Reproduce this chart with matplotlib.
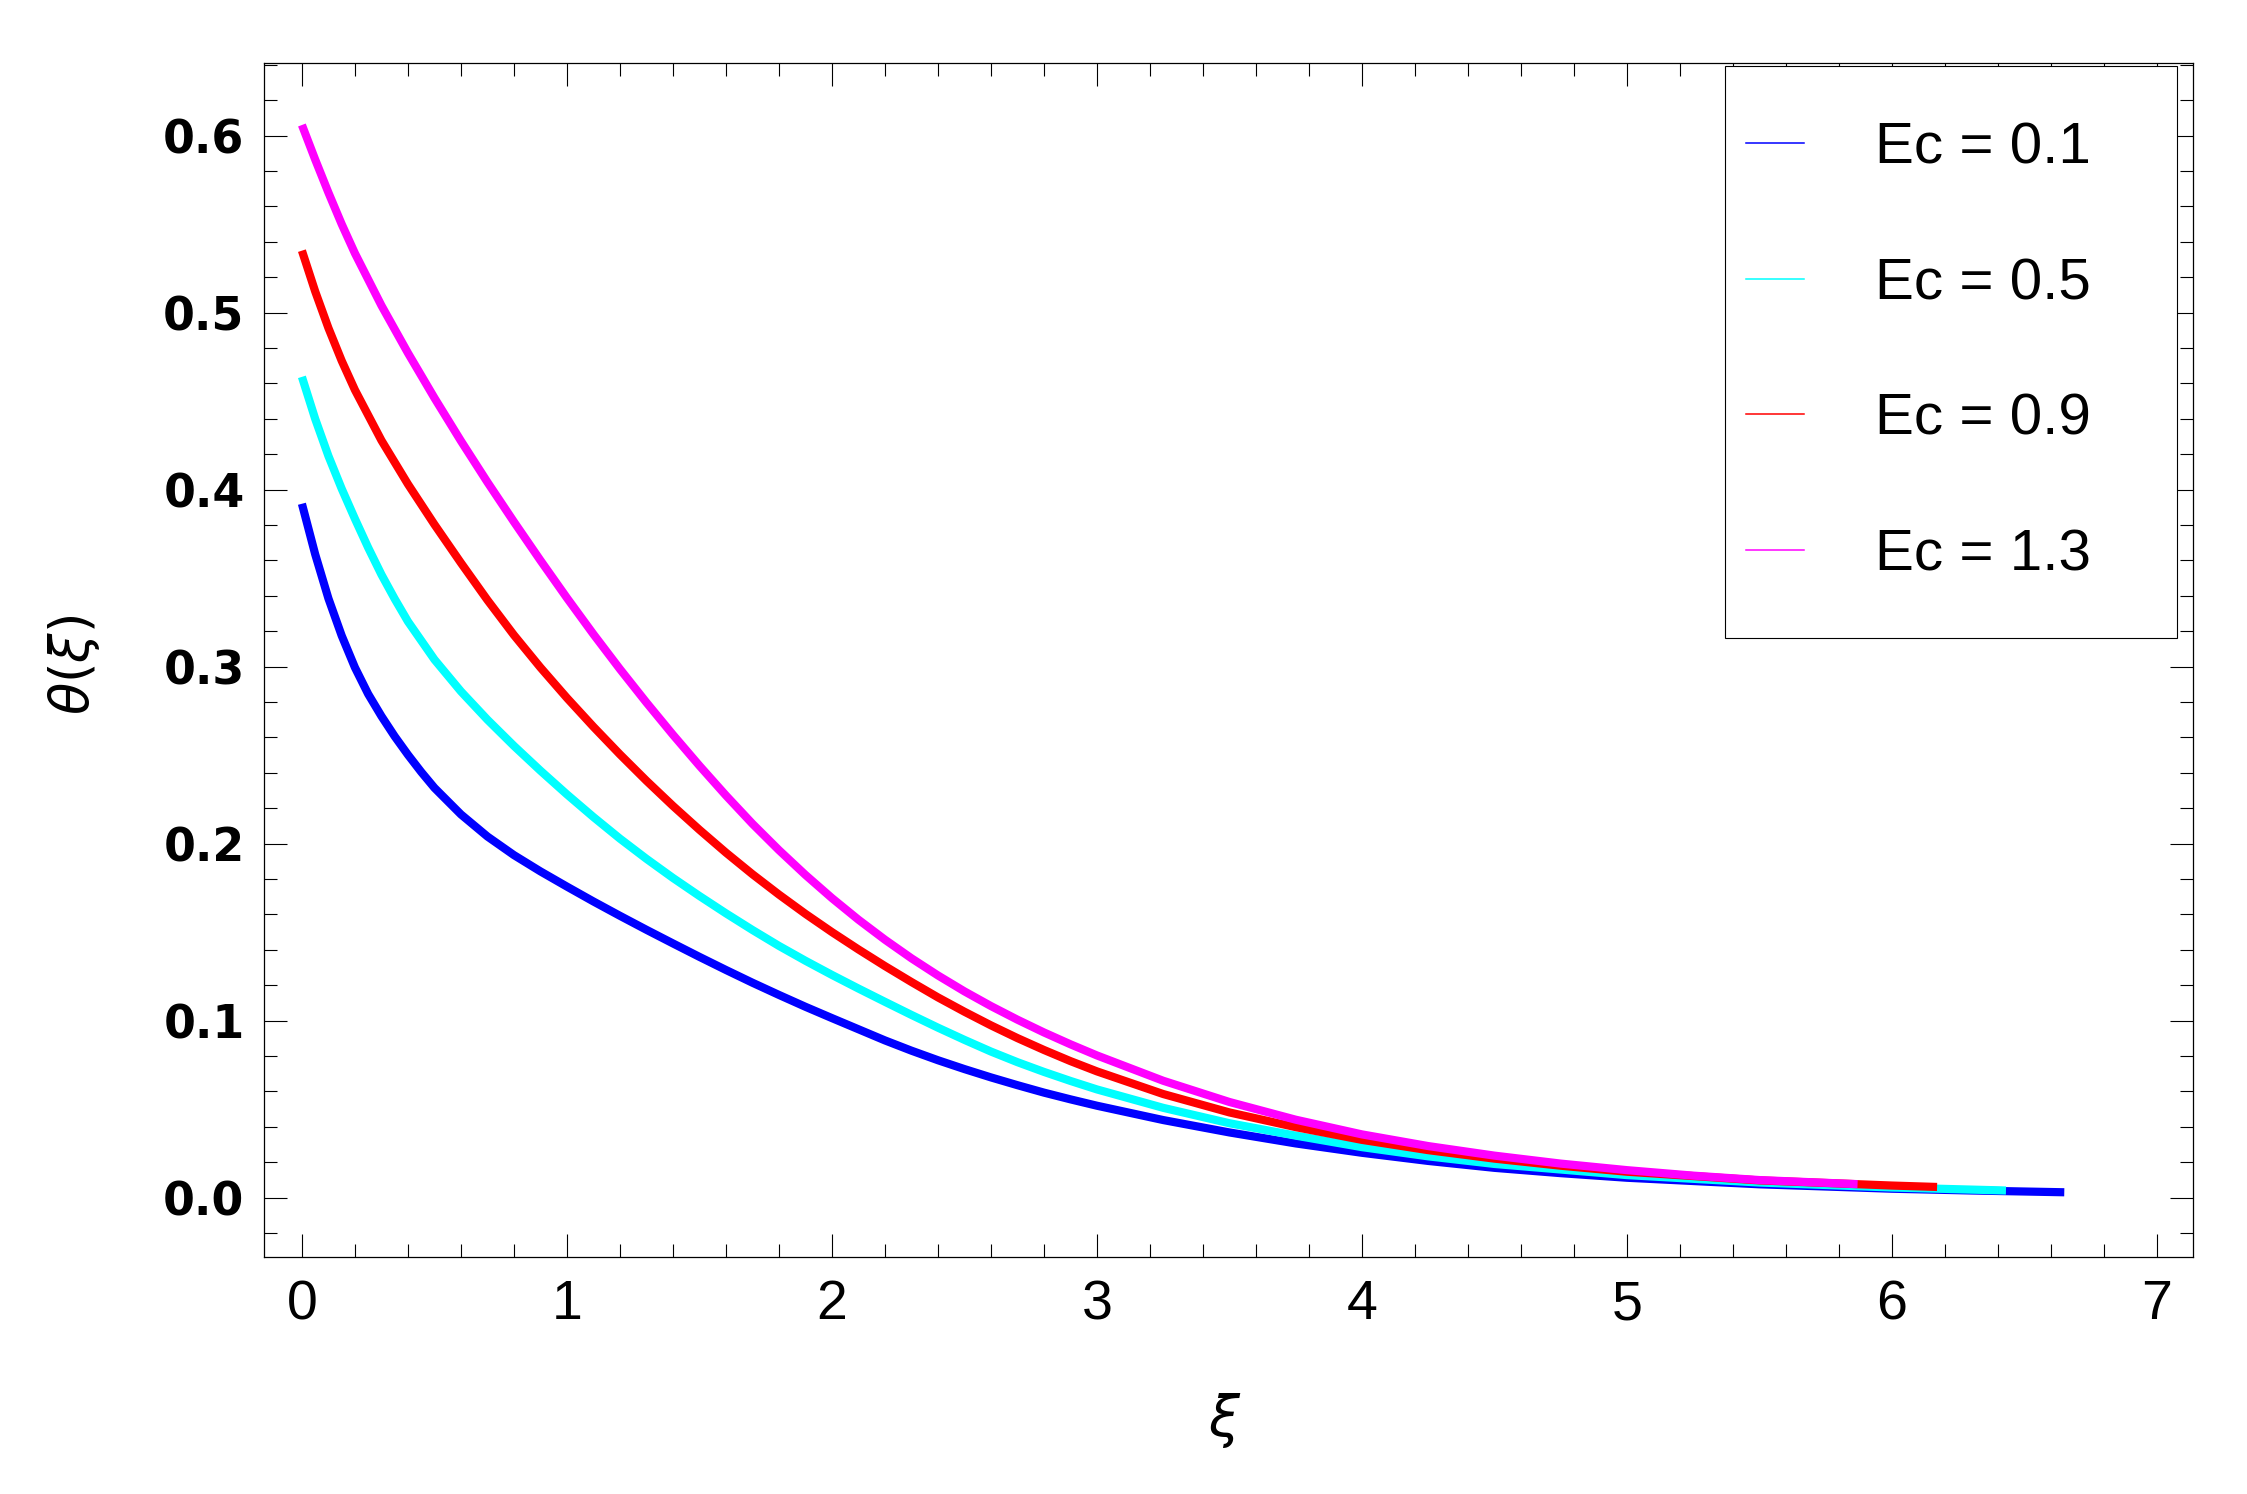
import matplotlib
matplotlib.use("Agg")
import matplotlib.pyplot as plt
from matplotlib.lines import Line2D
from matplotlib.legend_handler import HandlerLine2D
from matplotlib.ticker import MultipleLocator, FormatStrFormatter
from matplotlib import font_manager

# ---------------- data ----------------
labels = ["Ec = 0.1", "Ec = 0.5", "Ec = 0.9", "Ec = 1.3"]
colors = ["#0000ff", "#00ffff", "#ff0000", "#ff00ff"]

xi_ec01 = [0, 0.05, 0.1, 0.15, 0.2, 0.25, 0.3, 0.35, 0.4, 0.45, 0.5, 0.6, 0.7, 0.8,
           0.9, 1.0, 1.1, 1.2, 1.3, 1.4, 1.5, 1.6, 1.7, 1.8, 1.9, 2.0, 2.1, 2.2,
           2.3, 2.4, 2.5, 2.6, 2.7, 2.8, 2.9, 3.0, 3.25, 3.5, 3.75, 4.0, 4.25,
           4.5, 4.75, 5.0, 5.5, 6.0, 6.3, 6.65]
theta_ec01 = [0.3920, 0.3635, 0.3385, 0.3175, 0.2995, 0.2845, 0.2720, 0.2606, 0.2502,
              0.2405, 0.2315, 0.2165, 0.2040, 0.1935, 0.1843, 0.1757, 0.1673, 0.1592,
              0.1513, 0.1436, 0.1360, 0.1286, 0.1214, 0.1145, 0.1078, 0.1014, 0.0951,
              0.0888, 0.0830, 0.0776, 0.0726, 0.0679, 0.0635, 0.0593, 0.0555, 0.0519,
              0.0438, 0.0368, 0.0306, 0.0253, 0.0207, 0.0168, 0.0138, 0.0112, 0.0075,
              0.0050, 0.0040, 0.0030]

xi_ec05 = [0, 0.05, 0.1, 0.15, 0.2, 0.25, 0.3, 0.35, 0.4, 0.5, 0.6, 0.7, 0.8, 0.9,
           1.0, 1.1, 1.2, 1.3, 1.4, 1.5, 1.6, 1.7, 1.8, 1.9, 2.0, 2.1, 2.2, 2.3,
           2.4, 2.5, 2.6, 2.7, 2.8, 2.9, 3.0, 3.25, 3.5, 3.75, 4.0, 4.25, 4.5,
           5.0, 5.5, 6.0, 6.43]
theta_ec05 = [0.4637, 0.4400, 0.4190, 0.4005, 0.3835, 0.3672, 0.3520, 0.3383, 0.3255,
              0.3040, 0.2860, 0.2700, 0.2552, 0.2412, 0.2278, 0.2150, 0.2028, 0.1914,
              0.1806, 0.1704, 0.1606, 0.1512, 0.1422, 0.1338, 0.1258, 0.1181, 0.1106,
              0.1032, 0.0960, 0.0891, 0.0825, 0.0765, 0.0710, 0.0659, 0.0611, 0.0507,
              0.0420, 0.0350, 0.0285, 0.0233, 0.0190, 0.0127, 0.0085, 0.0057, 0.0040]

xi_ec09 = [0, 0.05, 0.1, 0.15, 0.2, 0.3, 0.4, 0.5, 0.6, 0.7, 0.8, 0.9, 1.0, 1.1,
           1.2, 1.3, 1.4, 1.5, 1.6, 1.7, 1.8, 1.9, 2.0, 2.1, 2.2, 2.3, 2.4, 2.5,
           2.6, 2.7, 2.8, 2.9, 3.0, 3.25, 3.5, 3.75, 4.0, 4.25, 4.5, 4.75, 5.0,
           5.5, 6.0, 6.17]
theta_ec09 = [0.5350, 0.5120, 0.4913, 0.4728, 0.4563, 0.4278, 0.4031, 0.3803, 0.3586,
              0.3376, 0.3178, 0.2995, 0.2823, 0.2660, 0.2504, 0.2355, 0.2213, 0.2078,
              0.1949, 0.1827, 0.1712, 0.1603, 0.1500, 0.1402, 0.1308, 0.1218, 0.1131,
              0.1050, 0.0973, 0.0901, 0.0834, 0.0771, 0.0713, 0.0585, 0.0481, 0.0398,
              0.0326, 0.0268, 0.0220, 0.0180, 0.0146, 0.0097, 0.0068, 0.0060]

xi_ec13 = [0, 0.05, 0.1, 0.15, 0.2, 0.3, 0.4, 0.5, 0.6, 0.7, 0.8, 0.9, 1.0, 1.1,
           1.2, 1.3, 1.4, 1.5, 1.6, 1.7, 1.8, 1.9, 2.0, 2.1, 2.2, 2.3, 2.4, 2.5,
           2.6, 2.7, 2.8, 2.9, 3.0, 3.25, 3.5, 3.75, 4.0, 4.25, 4.5, 4.75, 5.0,
           5.25, 5.5, 5.87]
theta_ec13 = [0.6060, 0.5865, 0.5678, 0.5500, 0.5335, 0.5040, 0.4772, 0.4518, 0.4275,
              0.4042, 0.3818, 0.3600, 0.3388, 0.3183, 0.2986, 0.2797, 0.2615, 0.2440,
              0.2272, 0.2112, 0.1963, 0.1823, 0.1692, 0.1570, 0.1457, 0.1352, 0.1255,
              0.1165, 0.1082, 0.1005, 0.0933, 0.0866, 0.0803, 0.0660, 0.0540, 0.0440,
              0.0357, 0.0291, 0.0237, 0.0192, 0.0155, 0.0124, 0.0099, 0.0076]

series_x = [xi_ec01, xi_ec05, xi_ec09, xi_ec13]
series_y = [theta_ec01, theta_ec05, theta_ec09, theta_ec13]

x_ticks = [0, 1, 2, 3, 4, 5, 6, 7]
y_ticks = [0.0, 0.1, 0.2, 0.3, 0.4, 0.5, 0.6]


def have_font(name):
    try:
        font_manager.findfont(font_manager.FontProperties(family=name),
                              fallback_to_default=False)
        return True
    except Exception:
        return False


narrow = "Liberation Sans Narrow" if have_font("Liberation Sans Narrow") else "Liberation Sans"

# ---------------- figure ----------------
fig = plt.figure(figsize=(22.47, 14.94), dpi=100)
ax = fig.add_axes([0.1175, 0.1586, 0.9760 - 0.1175, 0.9578 - 0.1586])

for xs, ys, c in zip(series_x, series_y, colors):
    ax.plot(xs, ys, color=c, lw=5.9, solid_capstyle="butt", solid_joinstyle="round")

ax.set_xlim(-0.143, 7.136)
ax.set_ylim(-0.0336, 0.641)

ax.set_xticks(x_ticks)
ax.set_yticks(y_ticks)
ax.xaxis.set_minor_locator(MultipleLocator(0.2))
ax.yaxis.set_minor_locator(MultipleLocator(0.02))
ax.xaxis.set_major_formatter(FormatStrFormatter("%d"))
ax.yaxis.set_major_formatter(FormatStrFormatter("%.1f"))

ax.tick_params(which="both", direction="in", top=True, right=True, width=0.8,
               color="black")
ax.tick_params(which="major", length=16.5)
ax.tick_params(which="minor", length=9.5)
ax.tick_params(axis="x", which="major", pad=16)
ax.tick_params(axis="y", which="major", pad=14)

for lab in ax.get_xticklabels():
    lab.set_fontfamily(narrow)
    lab.set_fontsize(40)
for lab in ax.get_yticklabels():
    lab.set_fontfamily("DejaVu Sans")
    lab.set_fontweight("bold")
    lab.set_fontsize(33)

for sp in ax.spines.values():
    sp.set_linewidth(0.9)
    sp.set_color("black")

ax.set_xlabel(r"$\xi$", fontsize=40, va="center")
ax.xaxis.set_label_coords(0.498, -0.1365)
ax.set_ylabel(r"$\theta(\xi)$", fontsize=38, va="center")
ax.yaxis.set_label_coords(-0.0985, 0.4958)

handles = [Line2D([], [], color=c, lw=1.1) for c in colors]
leg = ax.legend(handles, labels, loc="upper left",
                bbox_to_anchor=(0.7574, 0.0, 0.2343, 0.9975), mode="expand",
                borderaxespad=0.0, prop={"family": "Liberation Sans", "size": 42},
                frameon=True, fancybox=False, shadow=False, framealpha=1.0,
                edgecolor="black", borderpad=0.95, labelspacing=1.40,
                handlelength=0.40, handletextpad=1.22,
                handler_map={Line2D: HandlerLine2D(xpad=-0.6)})
leg.get_frame().set_linewidth(0.8)

fig.savefig("out.png", dpi=100, facecolor="white")
